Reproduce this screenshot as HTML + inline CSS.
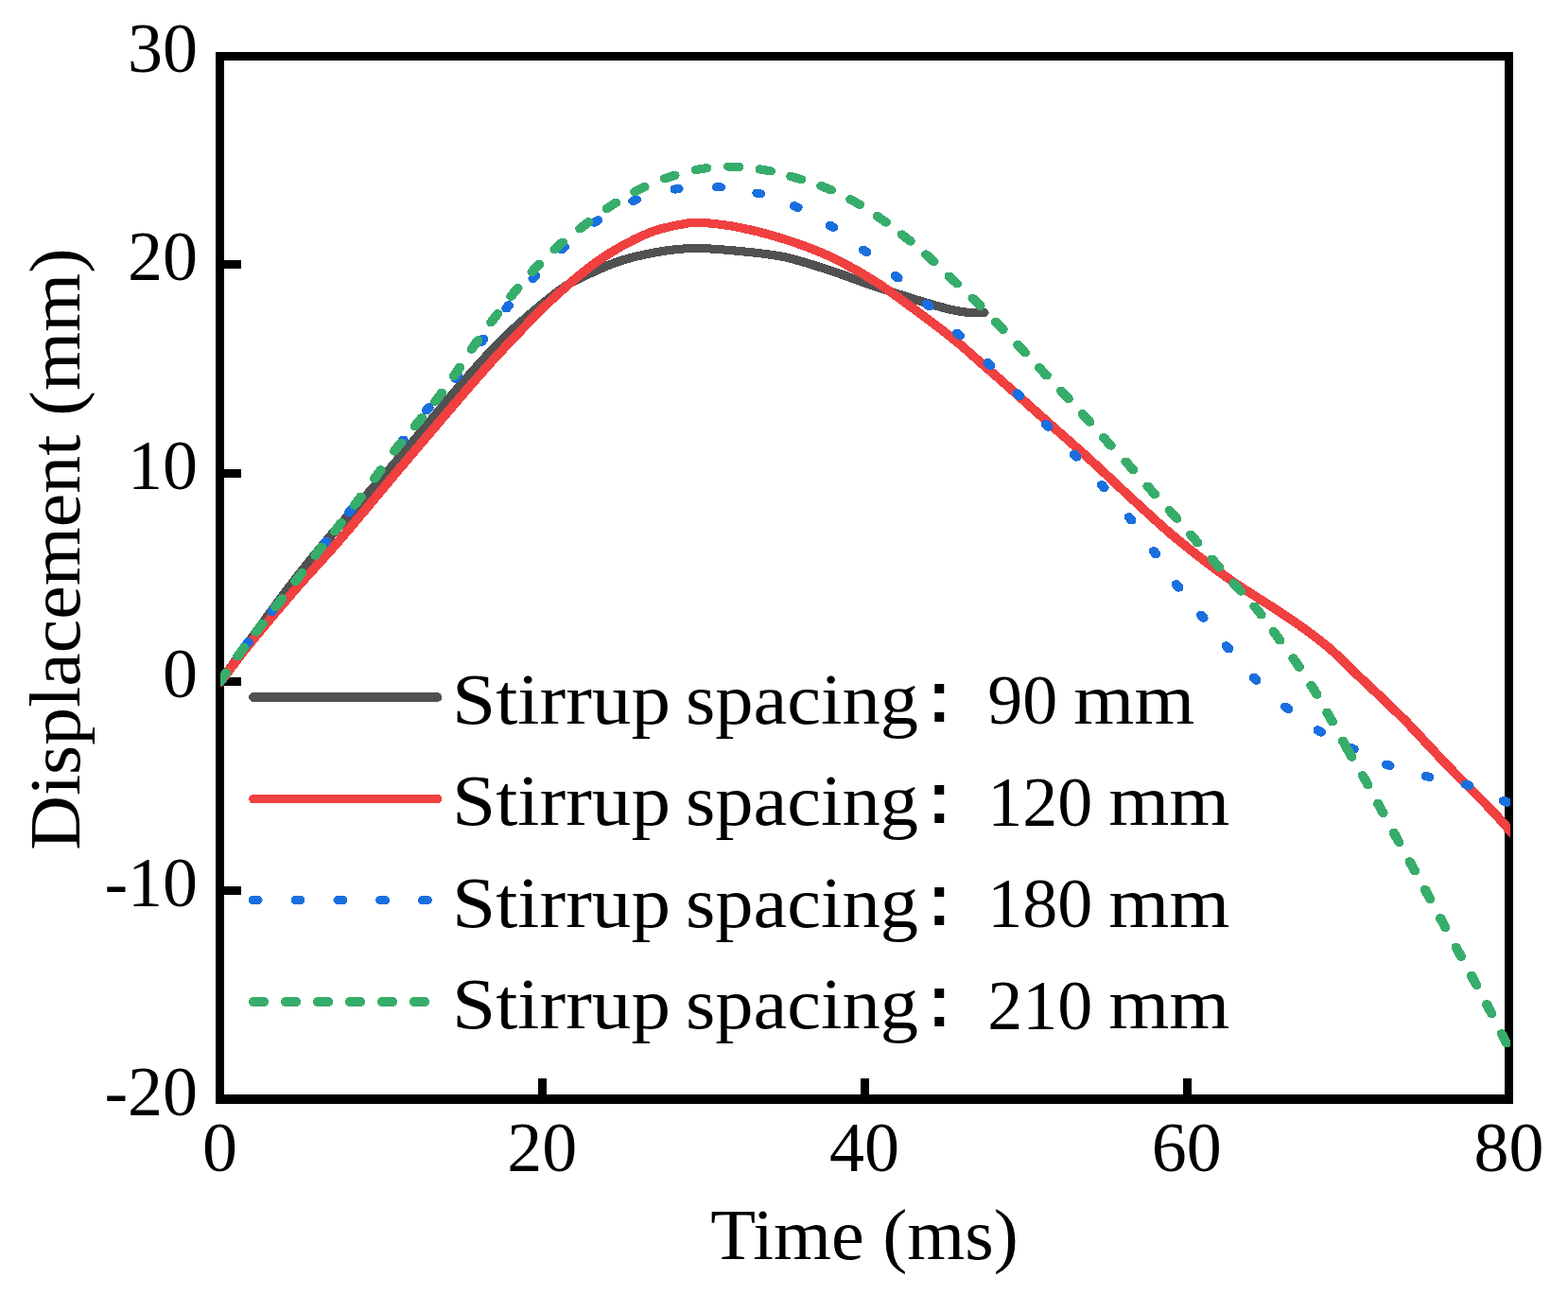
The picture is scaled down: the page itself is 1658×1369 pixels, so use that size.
<!DOCTYPE html>
<html lang="en"><head><meta charset="utf-8"><title>Displacement vs Time</title>
<style>
html,body{margin:0;padding:0;background:#fff;}
body{width:1658px;height:1369px;overflow:hidden;}
svg{display:block;}
text{font-family:"Liberation Serif","Noto Serif CJK SC",serif;fill:#000;}
.tk{font-size:75px;}
.cn{font-family:"Liberation Serif","IPAGothic","Noto Serif CJK SC",serif;font-size:84px;}
.lb{font-size:76px;}
.cv{fill:none;stroke-width:9.0;stroke-linejoin:round;shape-rendering:crispEdges;}
</style></head><body>
<svg width="1658" height="1369" viewBox="0 0 1658 1369">
<rect x="0" y="0" width="1658" height="1369" fill="#fff"/>
<defs><clipPath id="pc"><rect x="233" y="55" width="1364" height="1112"/></clipPath></defs>
<g fill="#000" shape-rendering="crispEdges">
<rect x="228" y="55" width="1372" height="9"/>
<rect x="228" y="1157" width="1372" height="10"/>
<rect x="228" y="55" width="9" height="1112"/>
<rect x="1591" y="55" width="9" height="1112"/>
<rect x="236" y="275" width="19" height="9"/>
<rect x="236" y="496" width="19" height="9"/>
<rect x="236" y="716" width="19" height="9"/>
<rect x="236" y="937" width="19" height="9"/>
<rect x="569" y="1140" width="9" height="18"/>
<rect x="910" y="1140" width="9" height="18"/>
<rect x="1251" y="1140" width="9" height="18"/>
</g>
<text class="tk" x="209" y="76.0" text-anchor="end" textLength="74.0" lengthAdjust="spacingAndGlyphs">30</text>
<text class="tk" x="209" y="295.9" text-anchor="end" textLength="74.0" lengthAdjust="spacingAndGlyphs">20</text>
<text class="tk" x="209" y="516.9" text-anchor="end" textLength="74.0" lengthAdjust="spacingAndGlyphs">10</text>
<text class="tk" x="209" y="736.9" text-anchor="end" textLength="37.0" lengthAdjust="spacingAndGlyphs">0</text>
<text class="tk" x="209" y="957.9" text-anchor="end" textLength="98.6" lengthAdjust="spacingAndGlyphs">-10</text>
<text class="tk" x="209" y="1178.6" text-anchor="end" textLength="98.6" lengthAdjust="spacingAndGlyphs">-20</text>
<text class="tk" x="232.5" y="1238.2" text-anchor="middle" textLength="37.0" lengthAdjust="spacingAndGlyphs">0</text>
<text class="tk" x="573.2" y="1238.2" text-anchor="middle" textLength="74.0" lengthAdjust="spacingAndGlyphs">20</text>
<text class="tk" x="914.0" y="1238.2" text-anchor="middle" textLength="74.0" lengthAdjust="spacingAndGlyphs">40</text>
<text class="tk" x="1254.8" y="1238.2" text-anchor="middle" textLength="74.0" lengthAdjust="spacingAndGlyphs">60</text>
<text class="tk" x="1595.5" y="1238.2" text-anchor="middle" textLength="74.0" lengthAdjust="spacingAndGlyphs">80</text>
<text class="lb" x="914" y="1331" text-anchor="middle" textLength="325.5" lengthAdjust="spacingAndGlyphs">Time (ms)</text>
<text class="lb" transform="translate(83.5 580.5) rotate(-90)" x="0" y="0" text-anchor="middle" textLength="636.5" lengthAdjust="spacingAndGlyphs">Displacement (mm)</text>
<g clip-path="url(#pc)">
<g class="cv" stroke="#515151" stroke-linecap="round">
<path transform="translate(-0.55 0)" d="M232.8 721.0C244.7 704.7 284.5 649.1 304.0 623.3C323.5 597.5 330.5 589.1 349.8 566.4C369.1 543.7 397.0 513.7 420.0 487.0C443.0 460.3 470.3 426.5 488.0 406.0C505.7 385.5 514.8 375.8 526.2 364.1C537.6 352.4 544.5 345.9 556.6 335.6C568.7 325.3 586.6 310.2 598.7 302.1C610.8 294.0 619.8 291.0 629.0 286.7C638.2 282.4 645.3 279.4 653.8 276.5C662.3 273.6 670.7 271.5 680.0 269.5C689.3 267.5 699.8 265.5 709.5 264.3C719.2 263.1 726.4 262.3 738.5 262.5C750.6 262.7 766.9 264.0 781.9 265.5C796.9 267.0 812.5 268.2 828.3 271.5C844.1 274.8 860.4 280.3 876.5 285.5C892.6 290.7 908.7 297.2 924.8 302.6C940.9 308.1 959.3 314.0 973.0 318.2C986.7 322.4 997.9 325.6 1006.8 327.6C1015.6 329.7 1020.5 330.0 1026.1 330.5C1031.7 331.0 1038.1 330.5 1040.5 330.5"/>
<path transform="translate(0.55 0)" d="M232.8 721.0C244.7 704.7 284.5 649.1 304.0 623.3C323.5 597.5 330.5 589.1 349.8 566.4C369.1 543.7 397.0 513.7 420.0 487.0C443.0 460.3 470.3 426.5 488.0 406.0C505.7 385.5 514.8 375.8 526.2 364.1C537.6 352.4 544.5 345.9 556.6 335.6C568.7 325.3 586.6 310.2 598.7 302.1C610.8 294.0 619.8 291.0 629.0 286.7C638.2 282.4 645.3 279.4 653.8 276.5C662.3 273.6 670.7 271.5 680.0 269.5C689.3 267.5 699.8 265.5 709.5 264.3C719.2 263.1 726.4 262.3 738.5 262.5C750.6 262.7 766.9 264.0 781.9 265.5C796.9 267.0 812.5 268.2 828.3 271.5C844.1 274.8 860.4 280.3 876.5 285.5C892.6 290.7 908.7 297.2 924.8 302.6C940.9 308.1 959.3 314.0 973.0 318.2C986.7 322.4 997.9 325.6 1006.8 327.6C1015.6 329.7 1020.5 330.0 1026.1 330.5C1031.7 331.0 1038.1 330.5 1040.5 330.5"/>
</g>
<g class="cv" stroke="#F14040" stroke-linecap="round">
<path transform="translate(-0.55 0)" d="M232.8 721.5C237.5 715.3 247.6 700.8 261.0 684.2C274.4 667.6 296.7 641.1 313.2 622.1C329.7 603.1 340.5 592.5 359.9 570.0C379.3 547.5 405.6 515.3 429.6 487.0C453.6 458.7 485.5 421.2 504.0 400.0C522.5 378.8 526.5 374.6 540.6 359.9C554.8 345.2 572.8 326.2 588.9 311.6C605.0 297.1 621.0 283.5 637.1 272.6C653.2 261.8 671.3 252.4 685.4 246.5C699.5 240.6 712.0 238.8 721.6 237.0C731.2 235.2 733.2 234.9 743.3 235.5C753.3 236.1 767.7 237.7 781.9 240.5C796.1 243.3 812.5 247.5 828.3 252.5C844.1 257.5 860.4 263.2 876.5 270.6C892.6 278.1 908.7 287.1 924.8 297.2C940.9 307.3 958.6 320.9 973.0 331.5C987.4 342.1 999.9 351.7 1011.1 360.8C1022.3 369.9 1031.5 378.6 1040.0 386.0C1048.5 393.4 1051.1 395.5 1062.2 405.3C1073.3 415.1 1091.9 432.0 1106.5 445.0C1121.1 458.0 1136.1 470.9 1150.0 483.5C1163.9 496.1 1181.3 512.7 1190.0 520.8C1198.7 528.9 1193.3 524.0 1202.2 532.0C1211.1 540.0 1227.6 555.8 1243.2 568.7C1258.8 581.6 1278.3 596.9 1296.0 609.5C1313.7 622.1 1335.5 635.2 1349.5 644.5C1363.5 653.8 1370.5 658.4 1380.0 665.3C1389.5 672.2 1397.7 678.3 1406.6 686.0C1415.5 693.7 1424.1 702.9 1433.2 711.5C1442.3 720.1 1451.9 729.0 1461.0 737.7C1470.1 746.4 1478.9 754.7 1487.6 763.5C1496.2 772.3 1504.2 781.3 1512.9 790.5C1521.6 799.7 1529.3 808.1 1539.5 818.5C1549.7 828.9 1564.3 843.0 1573.9 853.0C1583.5 863.0 1592.5 873.5 1597.0 878.5C1601.5 883.5 1600.3 882.2 1601.0 883.0"/>
<path transform="translate(0.55 0)" d="M232.8 721.5C237.5 715.3 247.6 700.8 261.0 684.2C274.4 667.6 296.7 641.1 313.2 622.1C329.7 603.1 340.5 592.5 359.9 570.0C379.3 547.5 405.6 515.3 429.6 487.0C453.6 458.7 485.5 421.2 504.0 400.0C522.5 378.8 526.5 374.6 540.6 359.9C554.8 345.2 572.8 326.2 588.9 311.6C605.0 297.1 621.0 283.5 637.1 272.6C653.2 261.8 671.3 252.4 685.4 246.5C699.5 240.6 712.0 238.8 721.6 237.0C731.2 235.2 733.2 234.9 743.3 235.5C753.3 236.1 767.7 237.7 781.9 240.5C796.1 243.3 812.5 247.5 828.3 252.5C844.1 257.5 860.4 263.2 876.5 270.6C892.6 278.1 908.7 287.1 924.8 297.2C940.9 307.3 958.6 320.9 973.0 331.5C987.4 342.1 999.9 351.7 1011.1 360.8C1022.3 369.9 1031.5 378.6 1040.0 386.0C1048.5 393.4 1051.1 395.5 1062.2 405.3C1073.3 415.1 1091.9 432.0 1106.5 445.0C1121.1 458.0 1136.1 470.9 1150.0 483.5C1163.9 496.1 1181.3 512.7 1190.0 520.8C1198.7 528.9 1193.3 524.0 1202.2 532.0C1211.1 540.0 1227.6 555.8 1243.2 568.7C1258.8 581.6 1278.3 596.9 1296.0 609.5C1313.7 622.1 1335.5 635.2 1349.5 644.5C1363.5 653.8 1370.5 658.4 1380.0 665.3C1389.5 672.2 1397.7 678.3 1406.6 686.0C1415.5 693.7 1424.1 702.9 1433.2 711.5C1442.3 720.1 1451.9 729.0 1461.0 737.7C1470.1 746.4 1478.9 754.7 1487.6 763.5C1496.2 772.3 1504.2 781.3 1512.9 790.5C1521.6 799.7 1529.3 808.1 1539.5 818.5C1549.7 828.9 1564.3 843.0 1573.9 853.0C1583.5 863.0 1592.5 873.5 1597.0 878.5C1601.5 883.5 1600.3 882.2 1601.0 883.0"/>
</g>
<g class="cv" stroke="#1A6FDF" stroke-linecap="round" stroke-dasharray="4.0 43.5 4.0 40.7 4.0 42.0 4.0 40.2 4.0 38.7 4.0 41.5 4.0 42.3 4.0 39.8 4.0 41.5 4.0 43.3 4.0 40.3 4.0 38.3 4.0 39.3 4.0 41.1 4.0 42.4 4.0 42.0 4.0 40.6 4.0 38.8 4.0 38.0 4.0 39.1 4.0 39.5 4.0 39.4 4.0 40.4 4.0 40.9 4.0 41.1 4.0 40.9 4.0 40.3 4.0 39.7 4.0 39.8 4.0 40.7 4.0 40.3 4.0 38.6 4.0 37.6 4.0 38.3 4.0 40.2 4.0 41.3 4.0 38.5 4.0 35.3 4.0 37.6 4.0 39.6 4.0 39.1 4.0 39.8 4.0 500.0">
<path transform="translate(-0.55 0)" d="M232.8 720.8C237.6 714.0 252.6 692.3 261.7 679.9C270.9 667.5 278.3 658.5 287.7 646.4C297.0 634.3 308.4 619.7 317.9 607.5C327.3 595.3 335.6 584.4 344.2 573.3C352.9 562.2 360.9 552.4 369.7 540.9C378.5 529.5 387.5 517.5 397.0 504.7C406.6 492.0 417.9 476.2 427.0 464.4C436.0 452.5 441.9 444.4 451.2 433.5C460.5 422.6 472.7 411.7 482.7 399.2C492.7 386.7 501.9 371.2 511.0 358.6C520.1 346.0 528.2 334.7 537.1 323.8C546.0 312.9 554.7 303.6 564.4 293.4C574.1 283.1 584.6 272.1 595.5 262.3C606.4 252.5 617.2 242.9 629.9 234.4C642.6 225.9 657.5 217.3 671.8 211.5C686.1 205.7 701.1 202.0 715.9 199.7C730.7 197.4 746.1 197.0 760.6 197.8C775.1 198.6 789.3 201.2 802.8 204.6C816.2 208.0 828.6 212.5 841.3 218.3C854.0 224.1 866.9 231.3 879.2 239.2C891.5 247.1 903.8 257.1 915.1 265.8C926.4 274.6 935.9 282.2 947.0 291.7C958.1 301.2 970.6 312.7 981.6 322.9C992.6 333.1 1002.1 342.4 1012.8 352.8C1023.5 363.2 1035.4 374.5 1046.0 385.2C1056.6 395.9 1066.4 406.4 1076.6 417.1C1086.8 427.9 1097.0 438.9 1107.1 449.7C1117.2 460.4 1127.2 471.0 1137.0 481.6C1146.8 492.2 1155.9 502.4 1165.6 513.5C1175.3 524.6 1186.0 536.7 1195.3 548.5C1204.6 560.3 1212.9 572.5 1221.2 584.4C1229.5 596.2 1236.9 608.4 1245.2 619.6C1253.5 630.8 1262.4 640.8 1271.1 651.5C1279.8 662.2 1288.3 672.8 1297.6 683.8C1306.9 694.8 1316.3 706.6 1326.8 717.4C1337.3 728.1 1348.8 738.8 1360.6 748.3C1372.3 757.8 1386.1 767.3 1397.3 774.3C1408.5 781.3 1415.9 784.4 1427.6 790.1C1439.3 795.8 1453.7 803.6 1467.4 808.7C1481.1 813.9 1496.1 817.5 1510.0 821.0C1523.9 824.5 1537.3 825.1 1550.9 829.5C1564.5 833.9 1583.7 843.7 1591.4 847.2C1599.1 850.7 1595.4 849.5 1597.0 850.5C1598.6 851.5 1600.3 852.6 1601.0 853.0"/>
<path transform="translate(0.55 0)" d="M232.8 720.8C237.6 714.0 252.6 692.3 261.7 679.9C270.9 667.5 278.3 658.5 287.7 646.4C297.0 634.3 308.4 619.7 317.9 607.5C327.3 595.3 335.6 584.4 344.2 573.3C352.9 562.2 360.9 552.4 369.7 540.9C378.5 529.5 387.5 517.5 397.0 504.7C406.6 492.0 417.9 476.2 427.0 464.4C436.0 452.5 441.9 444.4 451.2 433.5C460.5 422.6 472.7 411.7 482.7 399.2C492.7 386.7 501.9 371.2 511.0 358.6C520.1 346.0 528.2 334.7 537.1 323.8C546.0 312.9 554.7 303.6 564.4 293.4C574.1 283.1 584.6 272.1 595.5 262.3C606.4 252.5 617.2 242.9 629.9 234.4C642.6 225.9 657.5 217.3 671.8 211.5C686.1 205.7 701.1 202.0 715.9 199.7C730.7 197.4 746.1 197.0 760.6 197.8C775.1 198.6 789.3 201.2 802.8 204.6C816.2 208.0 828.6 212.5 841.3 218.3C854.0 224.1 866.9 231.3 879.2 239.2C891.5 247.1 903.8 257.1 915.1 265.8C926.4 274.6 935.9 282.2 947.0 291.7C958.1 301.2 970.6 312.7 981.6 322.9C992.6 333.1 1002.1 342.4 1012.8 352.8C1023.5 363.2 1035.4 374.5 1046.0 385.2C1056.6 395.9 1066.4 406.4 1076.6 417.1C1086.8 427.9 1097.0 438.9 1107.1 449.7C1117.2 460.4 1127.2 471.0 1137.0 481.6C1146.8 492.2 1155.9 502.4 1165.6 513.5C1175.3 524.6 1186.0 536.7 1195.3 548.5C1204.6 560.3 1212.9 572.5 1221.2 584.4C1229.5 596.2 1236.9 608.4 1245.2 619.6C1253.5 630.8 1262.4 640.8 1271.1 651.5C1279.8 662.2 1288.3 672.8 1297.6 683.8C1306.9 694.8 1316.3 706.6 1326.8 717.4C1337.3 728.1 1348.8 738.8 1360.6 748.3C1372.3 757.8 1386.1 767.3 1397.3 774.3C1408.5 781.3 1415.9 784.4 1427.6 790.1C1439.3 795.8 1453.7 803.6 1467.4 808.7C1481.1 813.9 1496.1 817.5 1510.0 821.0C1523.9 824.5 1537.3 825.1 1550.9 829.5C1564.5 833.9 1583.7 843.7 1591.4 847.2C1599.1 850.7 1595.4 849.5 1597.0 850.5C1598.6 851.5 1600.3 852.6 1601.0 853.0"/>
</g>
<g class="cv" stroke="#37AD6B" stroke-linecap="round" stroke-dasharray="11.4 20.5 11.4 21.4 11.4 21.8 11.4 23.1 11.4 22.8 11.4 21.8 11.4 22.9 11.4 24.0 11.4 24.1 11.4 23.2 11.4 22.2 11.4 22.0 11.4 22.7 11.4 23.5 11.4 23.2 11.4 22.6 11.4 22.6 11.4 23.4 11.4 23.8 11.4 23.2 11.4 22.9 11.4 23.1 11.4 22.9 11.4 22.4 11.4 22.1 11.4 22.3 11.4 22.5 11.4 22.1 11.4 21.3 11.4 21.5 11.4 22.2 11.4 22.8 11.4 23.1 11.4 22.5 11.4 21.9 11.4 22.1 11.4 22.0 11.4 22.3 11.4 23.0 11.4 23.3 11.4 23.1 11.4 22.7 11.4 22.9 11.4 22.7 11.4 21.6 11.4 22.2 11.4 23.4 11.4 22.9 11.4 22.1 11.4 22.6 19.6 22.6 11.4 22.7 11.4 23.6 11.4 23.4 11.4 22.5 11.4 22.8 11.4 23.3 11.4 22.9 11.4 22.9 11.4 23.2 11.4 500.0">
<path transform="translate(-0.55 0)" d="M232.8 720.3C236.5 715.1 247.9 698.6 254.8 689.2C261.7 679.8 267.5 672.3 274.1 663.7C280.7 655.1 287.7 646.5 294.6 637.6C301.5 628.7 308.6 619.6 315.7 610.3C322.8 601.0 330.7 590.4 337.5 581.7C344.3 573.0 349.6 567.0 356.5 558.2C363.4 549.5 371.5 538.6 378.6 529.2C385.7 519.8 392.1 511.4 399.1 501.9C406.1 492.4 413.6 481.3 420.8 472.0C428.0 462.7 435.4 454.7 442.5 446.0C449.6 437.3 456.9 428.7 463.7 419.9C470.4 411.1 476.7 402.2 483.0 393.0C489.3 383.8 495.1 374.3 501.7 364.8C508.3 355.3 515.8 345.5 522.8 336.2C529.8 326.9 536.6 317.7 543.9 308.9C551.1 300.1 558.5 291.7 566.3 283.5C574.1 275.3 582.0 267.4 590.5 259.9C599.0 252.4 608.1 245.6 617.5 238.5C626.9 231.4 637.0 223.5 646.8 217.1C656.6 210.7 665.9 205.3 676.1 200.3C686.3 195.3 696.9 190.8 707.8 187.2C718.7 183.6 730.0 180.4 741.3 178.6C752.6 176.8 764.2 175.9 775.5 176.1C786.8 176.3 798.0 177.8 809.0 179.8C820.0 181.8 830.6 184.8 841.3 187.9C852.0 191.0 862.9 194.4 873.3 198.6C883.7 202.8 893.9 207.8 903.8 213.3C913.6 218.9 923.4 225.6 932.4 231.9C941.4 238.2 949.3 244.3 957.7 251.1C966.1 257.8 974.6 265.0 982.9 272.4C991.2 279.8 999.3 287.9 1007.5 295.7C1015.7 303.4 1023.9 310.8 1032.1 318.9C1040.3 327.0 1048.7 335.9 1056.7 344.2C1064.7 352.5 1072.3 360.6 1079.9 368.6C1087.5 376.7 1094.9 384.4 1102.5 392.5C1110.1 400.6 1118.1 408.9 1125.7 417.1C1133.3 425.3 1140.9 433.5 1148.3 441.7C1155.7 449.9 1162.6 457.9 1170.3 466.3C1178.0 474.7 1186.5 483.6 1194.2 492.2C1201.9 500.8 1209.0 509.1 1216.7 517.7C1224.4 526.3 1232.9 535.3 1240.5 543.9C1248.1 552.5 1255.0 560.6 1262.4 569.1C1269.8 577.6 1277.3 586.4 1285.0 595.0C1292.7 603.6 1300.9 612.7 1308.3 621.0C1315.7 629.3 1322.7 636.5 1329.6 644.9C1336.5 653.3 1342.7 662.2 1349.5 671.5C1356.3 680.8 1364.1 691.0 1370.7 700.6C1377.3 710.2 1383.4 719.6 1389.3 729.1C1395.2 738.6 1400.0 747.3 1405.9 757.7C1411.8 768.1 1418.2 780.5 1424.5 791.6C1430.8 802.7 1437.7 814.0 1443.5 824.4C1449.3 834.8 1453.9 843.7 1459.4 853.8C1464.9 863.9 1470.7 874.8 1476.4 885.1C1482.1 895.5 1487.9 905.9 1493.4 915.9C1498.9 925.9 1504.1 935.2 1509.4 945.1C1514.7 955.0 1519.9 964.8 1525.4 975.0C1530.9 985.2 1536.8 996.1 1542.3 1006.3C1547.8 1016.4 1552.9 1025.9 1558.3 1035.9C1563.7 1045.9 1569.1 1056.0 1574.4 1066.2C1579.7 1076.5 1586.4 1090.0 1590.2 1097.4C1594.0 1104.8 1595.2 1107.2 1597.0 1110.8C1598.8 1114.3 1600.3 1117.4 1601.0 1118.7"/>
<path transform="translate(0.55 0)" d="M232.8 720.3C236.5 715.1 247.9 698.6 254.8 689.2C261.7 679.8 267.5 672.3 274.1 663.7C280.7 655.1 287.7 646.5 294.6 637.6C301.5 628.7 308.6 619.6 315.7 610.3C322.8 601.0 330.7 590.4 337.5 581.7C344.3 573.0 349.6 567.0 356.5 558.2C363.4 549.5 371.5 538.6 378.6 529.2C385.7 519.8 392.1 511.4 399.1 501.9C406.1 492.4 413.6 481.3 420.8 472.0C428.0 462.7 435.4 454.7 442.5 446.0C449.6 437.3 456.9 428.7 463.7 419.9C470.4 411.1 476.7 402.2 483.0 393.0C489.3 383.8 495.1 374.3 501.7 364.8C508.3 355.3 515.8 345.5 522.8 336.2C529.8 326.9 536.6 317.7 543.9 308.9C551.1 300.1 558.5 291.7 566.3 283.5C574.1 275.3 582.0 267.4 590.5 259.9C599.0 252.4 608.1 245.6 617.5 238.5C626.9 231.4 637.0 223.5 646.8 217.1C656.6 210.7 665.9 205.3 676.1 200.3C686.3 195.3 696.9 190.8 707.8 187.2C718.7 183.6 730.0 180.4 741.3 178.6C752.6 176.8 764.2 175.9 775.5 176.1C786.8 176.3 798.0 177.8 809.0 179.8C820.0 181.8 830.6 184.8 841.3 187.9C852.0 191.0 862.9 194.4 873.3 198.6C883.7 202.8 893.9 207.8 903.8 213.3C913.6 218.9 923.4 225.6 932.4 231.9C941.4 238.2 949.3 244.3 957.7 251.1C966.1 257.8 974.6 265.0 982.9 272.4C991.2 279.8 999.3 287.9 1007.5 295.7C1015.7 303.4 1023.9 310.8 1032.1 318.9C1040.3 327.0 1048.7 335.9 1056.7 344.2C1064.7 352.5 1072.3 360.6 1079.9 368.6C1087.5 376.7 1094.9 384.4 1102.5 392.5C1110.1 400.6 1118.1 408.9 1125.7 417.1C1133.3 425.3 1140.9 433.5 1148.3 441.7C1155.7 449.9 1162.6 457.9 1170.3 466.3C1178.0 474.7 1186.5 483.6 1194.2 492.2C1201.9 500.8 1209.0 509.1 1216.7 517.7C1224.4 526.3 1232.9 535.3 1240.5 543.9C1248.1 552.5 1255.0 560.6 1262.4 569.1C1269.8 577.6 1277.3 586.4 1285.0 595.0C1292.7 603.6 1300.9 612.7 1308.3 621.0C1315.7 629.3 1322.7 636.5 1329.6 644.9C1336.5 653.3 1342.7 662.2 1349.5 671.5C1356.3 680.8 1364.1 691.0 1370.7 700.6C1377.3 710.2 1383.4 719.6 1389.3 729.1C1395.2 738.6 1400.0 747.3 1405.9 757.7C1411.8 768.1 1418.2 780.5 1424.5 791.6C1430.8 802.7 1437.7 814.0 1443.5 824.4C1449.3 834.8 1453.9 843.7 1459.4 853.8C1464.9 863.9 1470.7 874.8 1476.4 885.1C1482.1 895.5 1487.9 905.9 1493.4 915.9C1498.9 925.9 1504.1 935.2 1509.4 945.1C1514.7 955.0 1519.9 964.8 1525.4 975.0C1530.9 985.2 1536.8 996.1 1542.3 1006.3C1547.8 1016.4 1552.9 1025.9 1558.3 1035.9C1563.7 1045.9 1569.1 1056.0 1574.4 1066.2C1579.7 1076.5 1586.4 1090.0 1590.2 1097.4C1594.0 1104.8 1595.2 1107.2 1597.0 1110.8C1598.8 1114.3 1600.3 1117.4 1601.0 1118.7"/>
</g>
</g>
<line class="cv" style="stroke-width:9.8" x1="268.0" y1="737.05" x2="462.4" y2="737.05" stroke="#515151" stroke-linecap="round"/>
<text class="lb" y="764.5"><tspan x="478" textLength="231" lengthAdjust="spacingAndGlyphs">Stirrup</tspan> <tspan x="725" textLength="246" lengthAdjust="spacingAndGlyphs">spacing</tspan><tspan class="cn" x="951.2" dy="2.2">：</tspan> <tspan class="tk" x="1044.2" dy="-1.4" textLength="74.0" lengthAdjust="spacingAndGlyphs">90</tspan> <tspan x="1135.2" dy="-0.8" textLength="128" lengthAdjust="spacingAndGlyphs">mm</tspan></text>
<line class="cv" style="stroke-width:9.6" x1="268.0" y1="844.60" x2="462.4" y2="844.60" stroke="#F14040" stroke-linecap="round"/>
<text class="lb" y="872.0"><tspan x="478" textLength="231" lengthAdjust="spacingAndGlyphs">Stirrup</tspan> <tspan x="725" textLength="246" lengthAdjust="spacingAndGlyphs">spacing</tspan><tspan class="cn" x="951.2" dy="2.2">：</tspan> <tspan class="tk" x="1044.2" dy="-1.4" textLength="111.0" lengthAdjust="spacingAndGlyphs">120</tspan> <tspan x="1172.2" dy="-0.8" textLength="128" lengthAdjust="spacingAndGlyphs">mm</tspan></text>
<line class="cv" style="stroke-width:9.0" x1="267.3" y1="951.60" x2="462.4" y2="951.60" stroke="#1A6FDF" stroke-linecap="round" stroke-dasharray="5.8 39"/>
<text class="lb" y="979.5"><tspan x="478" textLength="231" lengthAdjust="spacingAndGlyphs">Stirrup</tspan> <tspan x="725" textLength="246" lengthAdjust="spacingAndGlyphs">spacing</tspan><tspan class="cn" x="951.2" dy="2.2">：</tspan> <tspan class="tk" x="1044.2" dy="-1.4" textLength="111.0" lengthAdjust="spacingAndGlyphs">180</tspan> <tspan x="1172.2" dy="-0.8" textLength="128" lengthAdjust="spacingAndGlyphs">mm</tspan></text>
<line class="cv" style="stroke-width:10.0" x1="268.0" y1="1059.00" x2="462.4" y2="1059.00" stroke="#37AD6B" stroke-linecap="round" stroke-dasharray="11.1 22.9"/>
<text class="lb" y="1087.0"><tspan x="478" textLength="231" lengthAdjust="spacingAndGlyphs">Stirrup</tspan> <tspan x="725" textLength="246" lengthAdjust="spacingAndGlyphs">spacing</tspan><tspan class="cn" x="951.2" dy="2.2">：</tspan> <tspan class="tk" x="1044.2" dy="-1.4" textLength="111.0" lengthAdjust="spacingAndGlyphs">210</tspan> <tspan x="1172.2" dy="-0.8" textLength="128" lengthAdjust="spacingAndGlyphs">mm</tspan></text>
</svg>
</body></html>
